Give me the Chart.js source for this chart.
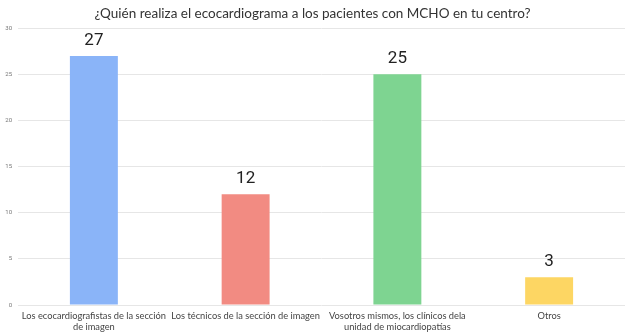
<!DOCTYPE html>
<html>
<head>
<meta charset="utf-8">
<script src="https://cdn.jsdelivr.net/npm/chart.js@4"></script>
<style>
  html, body { margin: 0; padding: 0; background: #fff; }
  #wrap { width: 627px; height: 333px; }
</style>
</head>
<body>
<div id="wrap"><canvas id="c"></canvas></div>
<script>
// Survey answers: who performs the echocardiogram
const categories = [
  ["Los ecocardiografistas de la sección", "de imagen"],
  "Los técnicos de la sección de imagen",
  ["Vosotros mismos, los clínicos dela", "unidad de miocardiopatías"],
  "Otros"
];
const counts = [27, 12, 25, 3];
const barColors = ["#8ab4f8", "#f28b82", "#7ed491", "#fdd663"];
const yTicks = [0, 5, 10, 15, 20, 25, 30];

const titleText = "¿Quién realiza el ecocardiograma a los pacientes con MCHO en tu centro?";

// Draw each bar's count above it
const valueLabels = {
  id: "valueLabels",
  afterDatasetsDraw(chart) {
    const ctx = chart.ctx;
    const meta = chart.getDatasetMeta(0);
    ctx.save();
    ctx.font = "17px Roboto";
    ctx.fillStyle = "#222";
    ctx.textAlign = "center";
    ctx.textBaseline = "alphabetic";
    meta.data.forEach((bar, i) => {
      ctx.fillText(String(counts[i]), bar.x, bar.y - 11);
    });
    ctx.restore();
  }
};

new Chart(document.getElementById("c"), {
  type: "bar",
  data: {
    labels: categories,
    datasets: [{
      data: counts,
      backgroundColor: barColors,
      borderWidth: 0,
      categoryPercentage: 1,
      barPercentage: 0.316
    }]
  },
  options: {
    responsive: true,
    maintainAspectRatio: false,
    animation: false,
    layout: { padding: { left: 0, right: 2, top: 0, bottom: 0 } },
    plugins: {
      legend: { display: false },
      tooltip: { enabled: false },
      title: {
        display: true,
        text: titleText,
        color: "#333",
        font: { family: "Lato", size: 13.5, weight: "normal" },
        padding: { top: 6, bottom: 6 }
      }
    },
    scales: {
      x: {
        grid: { display: false },
        border: { display: false },
        ticks: {
          color: "#444",
          font: { family: "Lato", size: 9.3, lineHeight: 1.15 },
          padding: -2,
          maxRotation: 0,
          autoSkip: false
        },
        afterFit(s) { s.height = 28; }
      },
      y: {
        min: 0,
        max: 30,
        afterBuildTicks(s) { s.ticks = yTicks.map(v => ({ value: v })); },
        grid: { color: "#e6e6e6", drawTicks: false },
        border: { display: false },
        ticks: {
          color: "#777",
          font: { family: "Roboto", size: 6 },
          padding: 6
        },
        afterFit(s) { s.width = 18; }
      }
    }
  },
  plugins: [valueLabels]
});
</script>
</body>
</html>
